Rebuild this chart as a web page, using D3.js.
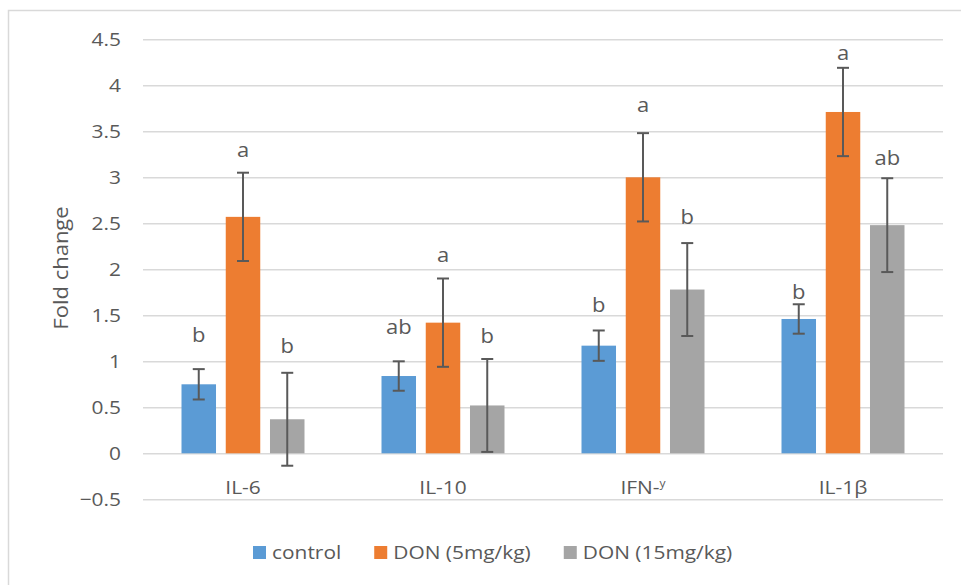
<!DOCTYPE html>
<html>
<head>
<meta charset="utf-8">
<script src="https://cdn.jsdelivr.net/npm/d3@7"></script>
<style>
  html, body { margin: 0; padding: 0; background: #fff; }
  svg { display: block; }
  text { font-family: "Open Sans", sans-serif; fill: #595959; }
</style>
</head>
<body>
<svg id="chart" width="961" height="585"></svg>
<script>
// ---- data ----
const categories = ["IL-6", "IL-10", "IFN-\u02B8", "IL-1\u03B2"];
const seriesNames = ["control", "DON (5mg/kg)", "DON (15mg/kg)"];
const seriesColors = ["#5B9BD5", "#ED7D31", "#A5A5A5"];

const controlVals = [0.75, 0.84, 1.17, 1.46];
const don5Vals = [2.57, 1.42, 3.00, 3.71];
const don15Vals = [0.37, 0.52, 1.78, 2.48];

const controlErr = [0.165, 0.16, 0.165, 0.16];
const don5Err = [0.48, 0.48, 0.48, 0.48];
const don15Err = [0.505, 0.505, 0.505, 0.51];

// significance letters and the value height they sit at
const controlLetters = ["b", "ab", "b", "b"];
const don5Letters = ["a", "a", "a", "a"];
const don15Letters = ["b", "b", "b", "ab"];
const controlLetterAt = [1.29, 1.37, 1.61, 1.75];
const don5LetterAt = [3.30, 2.16, 3.79, 4.35];
const don15LetterAt = [1.17, 1.28, 2.57, 3.21];

const yTicks = [-0.5, 0, 0.5, 1, 1.5, 2, 2.5, 3, 3.5, 4, 4.5];

// ---- layout ----
const SX = 1.1; // text is drawn a little wide, like the source
const svg = d3.select("#chart");
const plot = { left: 143, right: 943, top: 39.3, bottom: 499.3 };

svg.append("rect")
  .attr("x", 8.5).attr("y", 10.5).attr("width", 1000).attr("height", 700)
  .attr("fill", "none").attr("stroke", "#d9d9d9").attr("stroke-width", 1.5);

const y = d3.scaleLinear().domain([-0.5, 4.5]).range([plot.bottom, plot.top]);

const x0 = d3.scaleBand().domain(categories)
  .range([plot.left, plot.right])
  .paddingInner(0.385).paddingOuter(0.1925);

const x1 = d3.scaleBand().domain(d3.range(seriesNames.length))
  .range([0, x0.bandwidth()])
  .paddingInner(0.22).paddingOuter(0);

// gridlines + y labels
const yAxis = svg.append("g")
  .attr("transform", `translate(${plot.left},0)`)
  .call(d3.axisLeft(y).tickValues(yTicks).tickFormat(d3.format(""))
    .tickSize(-(plot.right - plot.left)).tickPadding(0));
yAxis.select(".domain").remove();
yAxis.selectAll(".tick line").attr("stroke", "#d9d9d9").attr("stroke-width", 1.5);
yAxis.selectAll(".tick text")
  .attr("x", null).attr("dy", "0.35em")
  .attr("transform", `translate(-22,0) scale(${SX},1)`)
  .attr("text-anchor", "end")
  .style("font-size", "19px").style("fill", "#595959")
  .style("font-family", "'Open Sans', sans-serif");

// y title
svg.append("text")
  .attr("transform", `translate(68,268) rotate(-90) scale(${SX},1)`)
  .attr("text-anchor", "middle")
  .style("font-size", "20px")
  .text("Fold change");

// bars
const series = [
  { vals: controlVals, err: controlErr, letters: controlLetters, at: controlLetterAt },
  { vals: don5Vals, err: don5Err, letters: don5Letters, at: don5LetterAt },
  { vals: don15Vals, err: don15Err, letters: don15Letters, at: don15LetterAt }
];

const rows = [];
categories.forEach((c, ci) => {
  series.forEach((s, si) => {
    rows.push({ cat: c, si, v: s.vals[ci], e: s.err[ci], letter: s.letters[ci], at: s.at[ci] });
  });
});

const barX = d => x0(d.cat) + x1(d.si);
const midX = d => barX(d) + x1.bandwidth() / 2;

svg.append("g").selectAll("rect")
  .data(rows).enter().append("rect")
  .attr("x", barX)
  .attr("width", x1.bandwidth())
  .attr("y", d => Math.min(y(d.v), y(0)))
  .attr("height", d => Math.abs(y(0) - y(d.v)))
  .attr("fill", d => seriesColors[d.si]);

// error bars
const eb = svg.append("g").attr("stroke", "#595959").attr("stroke-width", 2);
const capW = 12;
eb.selectAll(".stem").data(rows).enter().append("line")
  .attr("x1", midX).attr("x2", midX)
  .attr("y1", d => y(d.v + d.e)).attr("y2", d => y(d.v - d.e));
eb.selectAll(".capTop").data(rows).enter().append("line")
  .attr("x1", d => midX(d) - capW / 2).attr("x2", d => midX(d) + capW / 2)
  .attr("y1", d => y(d.v + d.e)).attr("y2", d => y(d.v + d.e));
eb.selectAll(".capBot").data(rows).enter().append("line")
  .attr("x1", d => midX(d) - capW / 2).attr("x2", d => midX(d) + capW / 2)
  .attr("y1", d => y(d.v - d.e)).attr("y2", d => y(d.v - d.e));

// letters
svg.append("g").selectAll("text")
  .data(rows).enter().append("text")
  .attr("transform", d => `translate(${midX(d)},${y(d.at)}) scale(${SX},1)`)
  .attr("dy", "0.35em")
  .attr("text-anchor", "middle")
  .style("font-size", "20px")
  .text(d => d.letter);

// category axis
const xAxis = svg.append("g")
  .attr("transform", `translate(0,${y(0)})`)
  .call(d3.axisBottom(x0).tickSize(0).tickPadding(0));
xAxis.select(".domain").remove();
xAxis.selectAll(".tick text")
  .attr("y", null).attr("dy", "0.35em")
  .attr("transform", `translate(0,34) scale(${SX},1)`)
  .style("font-size", "19px").style("fill", "#595959")
  .style("font-family", "'Open Sans', sans-serif")
  .each(function(d) {
    // small raised modifier letter (ʸ) drawn as a raised small y
    if (d.indexOf("\u02B8") < 0) return;
    const t = d3.select(this).text(d.replace("\u02B8", ""));
    t.append("tspan")
      .attr("dy", "-0.6em")
      .style("font-size", "11px")
      .text("y");
  });

// legend
const legend = svg.append("g").attr("transform", "translate(253,552.5)");
let lx = 0;
seriesNames.forEach((name, i) => {
  legend.append("rect")
    .attr("x", lx).attr("y", -6.5).attr("width", 13).attr("height", 13)
    .attr("fill", seriesColors[i]);
  const t = legend.append("text")
    .attr("transform", `translate(${lx + 19},0) scale(${SX},1)`)
    .attr("dy", "0.35em")
    .style("font-size", "19px")
    .text(name);
  lx += 19 + t.node().getComputedTextLength() * SX + 33;
});
</script>
</body>
</html>
